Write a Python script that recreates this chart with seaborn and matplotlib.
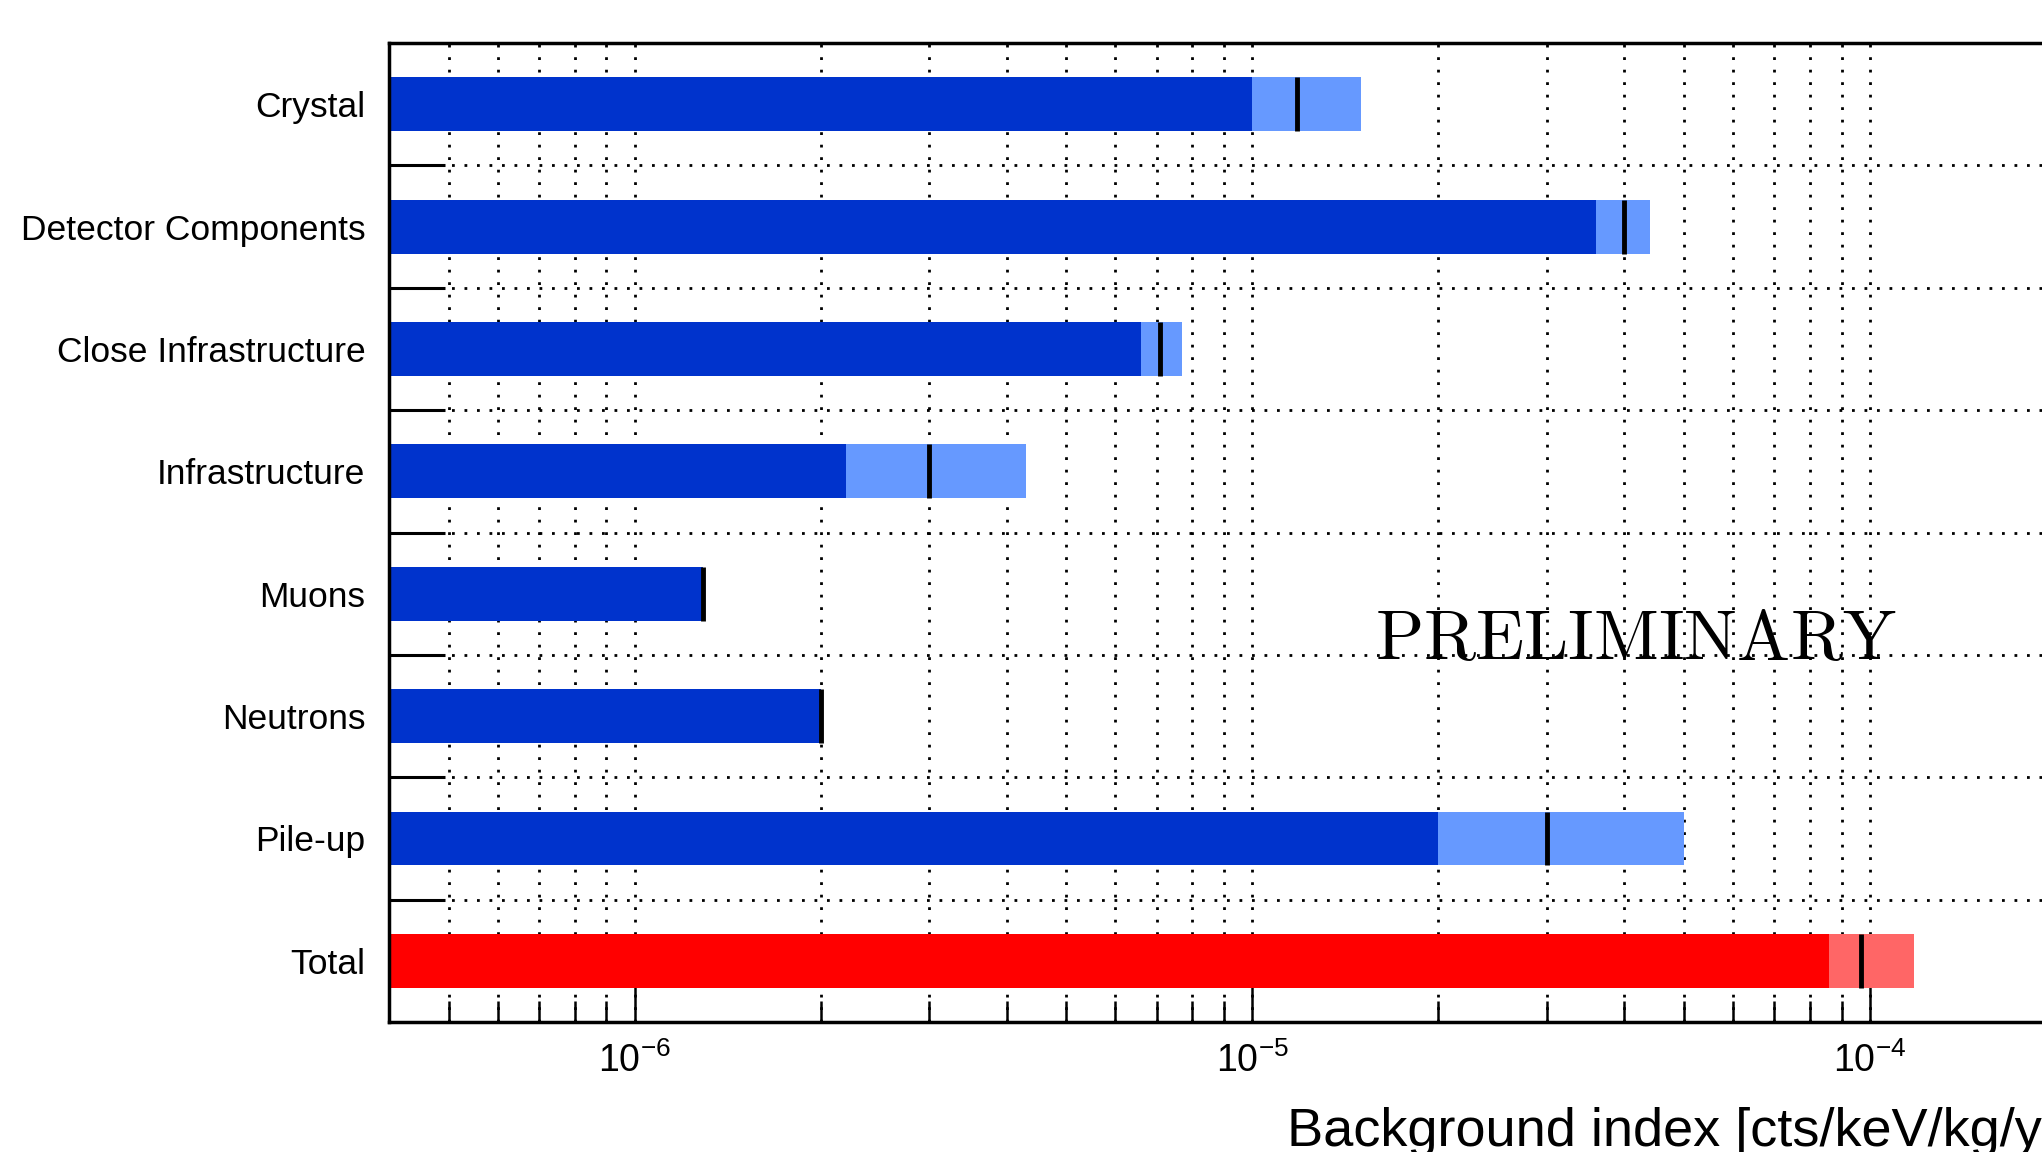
import numpy as np
import pandas as pd
import matplotlib
matplotlib.use('Agg')
import matplotlib.pyplot as plt
import seaborn as sns

# Background contributions (cts/keV/kg/yr)
categories = ['Crystal', 'Detector Components', 'Close Infrastructure',
              'Infrastructure', 'Muons', 'Neutrons', 'Pile-up', 'Total']
low_values = [1.0e-5, 3.6e-5, 6.6e-6, 2.2e-6, 1.29e-6, 2.0e-6, 2.0e-5, 8.6e-5]
central_values = [1.18e-5, 4.0e-5, 7.1e-6, 3.0e-6, 1.29e-6, 2.0e-6, 3.0e-5, 9.67e-5]
high_values = [1.5e-5, 4.4e-5, 7.7e-6, 4.3e-6, 1.29e-6, 2.0e-6, 5.0e-5, 1.18e-4]

dark_colors = ['#0033cc'] * 7 + ['#ff0000']
light_colors = ['#6699ff'] * 7 + ['#ff6666']

sns.set_theme(style='white')
plt.rcParams['font.family'] = ['Liberation Sans', 'DejaVu Sans']
plt.rcParams['mathtext.default'] = 'regular'
for key in ['text.color', 'axes.labelcolor', 'xtick.color', 'ytick.color']:
    plt.rcParams[key] = 'black'

df = pd.DataFrame({'category': categories,
                   'low': low_values,
                   'central': central_values,
                   'high': high_values})

fig = plt.figure(figsize=(20.42, 11.52), dpi=100)
# axes run past the right edge of the figure, as in the reference
ax = fig.add_axes([0.1905, 0.1128, 0.8257, 0.8498])
ax.set_xscale('log')

bar_width = 0.44

# upper range (light) first, then lower range (dark) on top
sns.barplot(data=df, x='high', y='category', hue='category',
            palette=dict(zip(categories, light_colors)), saturation=1,
            width=bar_width, linewidth=0, errorbar=None, legend=False, ax=ax)
sns.barplot(data=df, x='low', y='category', hue='category',
            palette=dict(zip(categories, dark_colors)), saturation=1,
            width=bar_width, linewidth=0, errorbar=None, legend=False, ax=ax)

# central value markers
ypos = np.arange(len(categories))
ax.vlines(df['central'], ypos - bar_width / 2, ypos + bar_width / 2,
          colors='black', linewidth=3.5, zorder=5)

ax.set_xlim(4e-7, 2.15e-4)
ax.set_ylim(len(categories) - 0.5, -0.5)

# grid
ax.set_axisbelow(True)
grid_kw = dict(color='black', linestyle=(0, (1, 3.5)), linewidth=2)
ax.set_yticks(ypos[:-1] + 0.5, minor=True)
ax.xaxis.grid(True, which='both', **grid_kw)
ax.yaxis.grid(False, which='major')
ax.yaxis.grid(True, which='minor', **grid_kw)

# ticks
ax.tick_params(axis='x', which='major', direction='in', length=32, width=1.8,
               labelsize=27, pad=15, bottom=True, top=False)
ax.tick_params(axis='x', which='minor', direction='in', length=15, width=1.8,
               bottom=True, top=False)
ax.tick_params(axis='y', which='major', left=False, length=0, labelsize=25.5,
               pad=17)
ax.tick_params(axis='y', which='minor', direction='in', length=40, width=2.2,
               left=True)

for sp in ax.spines.values():
    sp.set_linewidth(2.5)
    sp.set_color('black')

ax.set_ylabel('')
ax.set_xlabel('Background index [cts/keV/kg/yr]', fontsize=39, loc='right',
              labelpad=19)

ax.text(0.585, 0.370, r'$\mathrm{PRELIMINARY}$', transform=ax.transAxes,
        fontsize=51, math_fontfamily='cm', ha='left', va='baseline')

fig.savefig('out.png', dpi=100)
